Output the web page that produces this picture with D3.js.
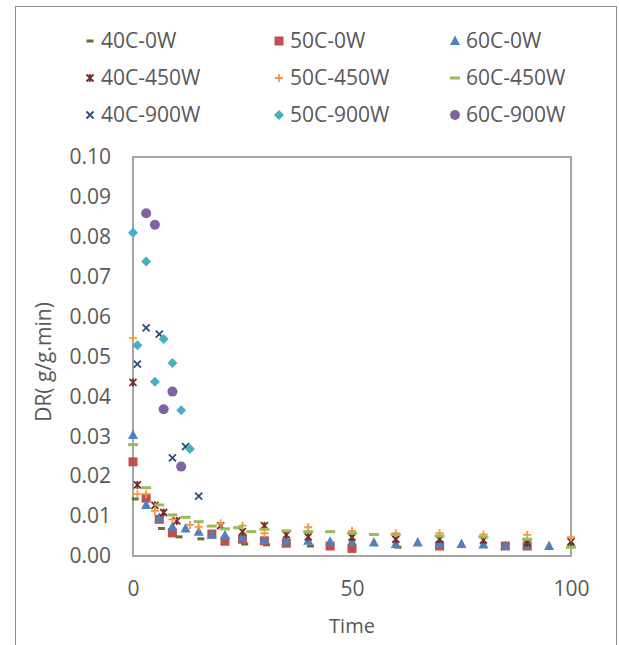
<!DOCTYPE html>
<html>
<head>
<meta charset="utf-8">
<script src="https://cdn.jsdelivr.net/npm/d3@7"></script>
<style>
    body { margin: 0; background: #fff; }
    text { font-family: "Open Sans", sans-serif; fill: #595959; }
</style>
</head>
<body>
<script>
// [time, drying rate] per series
var s40C0W = [[0.5, 0.0143], [6.5, 0.0069], [10.5, 0.0048], [15.5, 0.0043], [25.5, 0.0030], [30.5, 0.0028], [40.5, 0.0025], [60.5, 0.0022]];
var s50C0W = [[0, 0.0236], [3, 0.0145], [6, 0.0092], [9, 0.0058], [18, 0.0055], [21, 0.0037], [25, 0.0042], [30, 0.0038], [35, 0.0032], [45, 0.0025], [50, 0.0019], [70, 0.0025], [85, 0.0025], [90, 0.0025]];
var s60C0W = [[0, 0.0303], [3, 0.0128], [6, 0.0096], [9, 0.0073], [12, 0.0069], [15, 0.0061], [18, 0.0053], [21, 0.0052], [25, 0.0046], [30, 0.0040], [35, 0.0038], [40, 0.0038], [45, 0.0036], [50, 0.0036], [55, 0.0034], [60, 0.0030], [65, 0.0034], [70, 0.0030], [75, 0.0030], [80, 0.0029], [85, 0.0025], [90, 0.0028], [95, 0.0025], [100, 0.0030]];
var s40C450W = [[0, 0.0435], [1, 0.0178], [5, 0.0127], [7, 0.0109], [10, 0.0088], [20, 0.0076], [25, 0.0061], [30, 0.0076], [35, 0.0053], [40, 0.0048], [50, 0.0047], [60, 0.0042], [70, 0.0042], [80, 0.0040], [90, 0.0033], [100, 0.0036]];
var s50C450W = [[0, 0.0546], [1, 0.0155], [3, 0.0155], [5, 0.0113], [9, 0.0092], [13, 0.0078], [15, 0.0073], [20, 0.0082], [25, 0.0076], [30, 0.0057], [40, 0.0072], [50, 0.0063], [60, 0.0057], [70, 0.0057], [80, 0.0054], [90, 0.0053], [100, 0.0047]];
var s60C450W = [[0, 0.0279], [3, 0.0171], [6, 0.0128], [9, 0.0103], [12, 0.0097], [15, 0.0086], [18, 0.0075], [21, 0.0068], [24, 0.0071], [27, 0.0061], [30, 0.0067], [35, 0.0063], [40, 0.0061], [45, 0.0061], [50, 0.0057], [55, 0.0054], [60, 0.0054], [70, 0.0050], [80, 0.0048], [90, 0.0042], [100, 0.0022]];
var s40C900W = [[1, 0.0481], [3, 0.0572], [6, 0.0556], [9, 0.0246], [12, 0.0274], [15, 0.0150]];
var s50C900W = [[0, 0.0810], [1, 0.0528], [3, 0.0738], [5, 0.0437], [7, 0.0544], [9, 0.0484], [11, 0.0365], [13, 0.0268]];
var s60C900W = [[3, 0.0859], [5, 0.0830], [7, 0.0368], [9, 0.0412], [11, 0.0224]];

var seriesNames = ['40C-0W', '50C-0W', '60C-0W', '40C-450W', '50C-450W', '60C-450W', '40C-900W', '50C-900W', '60C-900W'];
var yTicks = [0, 0.01, 0.02, 0.03, 0.04, 0.05, 0.06, 0.07, 0.08, 0.09, 0.10];
var xTicks = [0, 50, 100];

var series = [
    { name: seriesNames[0], data: s40C0W, shape: 'shortdash', color: '#5f7530' },
    { name: seriesNames[1], data: s50C0W, shape: 'square', color: '#c0504d' },
    { name: seriesNames[2], data: s60C0W, shape: 'triangle', color: '#4f81bd' },
    { name: seriesNames[3], data: s40C450W, shape: 'star', color: '#772c2a' },
    { name: seriesNames[4], data: s50C450W, shape: 'plus', color: '#f79646' },
    { name: seriesNames[5], data: s60C450W, shape: 'dash', color: '#9bbb59' },
    { name: seriesNames[6], data: s40C900W, shape: 'x', color: '#2c4d75' },
    { name: seriesNames[7], data: s50C900W, shape: 'diamond', color: '#4bacc6' },
    { name: seriesNames[8], data: s60C900W, shape: 'circle', color: '#8064a2' }
];

var width = 619, height = 645;
var plot = { left: 133, right: 571, top: 157, bottom: 556 };

var svg = d3.select('body').append('svg')
    .attr('width', width)
    .attr('height', height);

// outer chart frame
svg.append('rect')
    .attr('x', 15.5).attr('y', 6.5)
    .attr('width', 601).attr('height', 700)
    .attr('fill', 'none')
    .attr('stroke', '#8c8c8c')
    .attr('stroke-width', 1);

var x = d3.scaleLinear().domain([0, 100]).range([plot.left, plot.right]);
var y = d3.scaleLinear().domain([0, 0.1]).range([plot.bottom, plot.top]);

// marker drawing
function markerPath(shape) {
    switch (shape) {
        case 'square': return 'M-4.5,-4.5H4.5V4.5H-4.5Z';
        case 'triangle': return 'M0,-5.5L5,4L-5,4Z';
        case 'diamond': return 'M0,-5L5,0L0,5L-5,0Z';
        case 'circle': return 'M5,0A5,5 0 1,1 -5,0A5,5 0 1,1 5,0Z';
        case 'dash': return 'M-5,-1.5H5V1.5H-5Z';
        case 'shortdash': return 'M-3.5,-1.5H3.5V1.5H-3.5Z';
        case 'plus': return 'M-4,0H4M0,-4V4';
        case 'x': return 'M-3.5,-3.5L3.5,3.5M-3.5,3.5L3.5,-3.5';
        case 'star': return 'M-3.5,-3.5L3.5,3.5M-3.5,3.5L3.5,-3.5M0,-4V4';
    }
}
function isStroked(shape) {
    return shape === 'plus' || shape === 'x' || shape === 'star';
}
function styleMarker(sel, s) {
    if (isStroked(s.shape)) {
        sel.attr('fill', 'none').attr('stroke', s.color).attr('stroke-width', 1.8);
    } else {
        sel.attr('fill', s.color).attr('stroke', 'none');
    }
}

// axes (labels only, Excel style)
var yAxis = d3.axisLeft(y).tickValues(yTicks).tickSize(0).tickPadding(22).tickFormat(d3.format('.2f'));
var yG = svg.append('g').attr('transform', 'translate(' + plot.left + ',0)').call(yAxis);
yG.select('.domain').remove();
yG.selectAll('text').style('font-size', '21px').style('font-family', '"Open Sans", sans-serif').attr('fill', '#595959');

var xAxis = d3.axisBottom(x).tickValues(xTicks).tickSize(0).tickPadding(0).tickFormat(d3.format('d'));
var xG = svg.append('g').attr('transform', 'translate(0,' + plot.bottom + ')').call(xAxis);
xG.select('.domain').remove();
xG.selectAll('text').attr('y', 33).attr('dy', '0.35em')
    .style('font-size', '21px').style('font-family', '"Open Sans", sans-serif').attr('fill', '#595959');

// plot area border
svg.append('rect')
    .attr('x', plot.left).attr('y', plot.top)
    .attr('width', plot.right - plot.left).attr('height', plot.bottom - plot.top)
    .attr('fill', 'none')
    .attr('stroke', '#a6a6a6')
    .attr('stroke-width', 2);

// axis titles
svg.append('text')
    .attr('x', (plot.left + plot.right) / 2).attr('y', 626)
    .attr('text-anchor', 'middle').attr('dy', '0.35em')
    .style('font-size', '20px')
    .text('Time');
svg.append('text')
    .attr('transform', 'translate(44,' + 362 + ') rotate(-90)')
    .attr('text-anchor', 'middle').attr('dy', '0.35em')
    .style('font-size', '21px')
    .text('DR( g/g.min)');

// points
series.forEach(function (s) {
    var g = svg.append('g').attr('class', 'series');
    g.selectAll('path').data(s.data).enter().append('path')
        .attr('d', markerPath(s.shape))
        .attr('transform', function (d) { return 'translate(' + x(d[0]) + ',' + y(d[1]) + ')'; })
        .call(styleMarker, s);
});

// legend, 3 columns x 3 rows
var legendCols = [90, 279, 455], legendRows = [41, 78, 115];
series.forEach(function (s, idx) {
    var lx = legendCols[idx % 3], ly = legendRows[Math.floor(idx / 3)];
    var item = svg.append('g').attr('transform', 'translate(' + lx + ',' + ly + ')');
    item.append('path').attr('d', markerPath(s.shape)).call(styleMarker, s);
    item.append('text')
        .attr('x', 11).attr('dy', '0.35em')
        .style('font-size', '21px')
        .text(s.name);
});
</script>
</body>
</html>
